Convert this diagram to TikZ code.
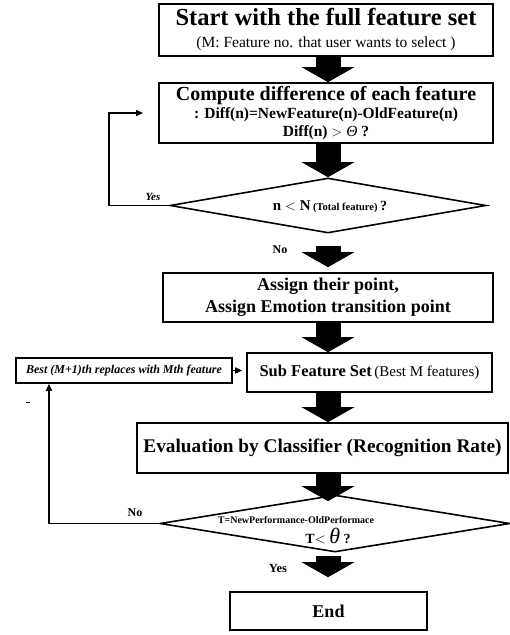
\documentclass[tikz,border=0pt]{standalone}
\usepackage{fontspec}
\setmainfont{Liberation Serif}
\usetikzlibrary{arrows.meta,shapes.geometric}
\newcommand\fsz[1]{\fontsize{#1}{#1}\selectfont}
\begin{document}
\begin{tikzpicture}[x=1pt,y=-1pt,
  box/.style={draw,line width=1.6pt,inner sep=0pt,align=center,font=\bfseries},
  dia/.style={draw,diamond,line width=1.6pt,inner sep=0pt},
  big/.style={line width=25pt,-{Triangle[width=52pt,length=15pt]}},
  thinarrow/.style={line width=1.5pt,-{Triangle[width=6pt,length=7pt]}},
  lab/.style={inner sep=0pt,font=\bfseries\fsz{12}}]
\useasboundingbox (0,0) rectangle (510,635);

% boxes
\node[box,minimum width=334pt,minimum height=52pt,font=\bfseries\fontsize{16}{22}\selectfont] (start) at (326,30)
  {{\fsz{24.5}Start with the full feature set}\\{\mdseries\fsz{15.5}(M: Feature no. that user wants to select )}};
\node[box,minimum width=334pt,minimum height=60pt,font=\bfseries\fontsize{15.5}{18}\selectfont] (compute) at (326,113)
  {{\fsz{20}Compute difference of each feature}\\: Diff(n)=NewFeature(n)-OldFeature(n)\\Diff(n) {$>$} {\itshape\mdseries Θ} ?};
\node[dia,minimum width=316pt,minimum height=55pt] (d1) at (328,205.5) {};
\node[inner sep=0pt,font=\bfseries] (d1t) at (330,207)
  {{\fsz{15}n {$<$} N} {\fsz{10.5}(Total feature)} {\fsz{14}?}};
\node[box,minimum width=330pt,minimum height=49pt,font=\bfseries\fontsize{18}{22}\selectfont] (assign) at (328,297.5)
  {Assign their point,\\Assign Emotion transition point};
\node[box,minimum width=245pt,minimum height=39pt] (sub) at (369.5,372.5)
  {{\fsz{16.5}Sub Feature Set} {\mdseries\fsz{15}(Best M features)}};
\node[box,minimum width=216pt,minimum height=25pt,font=\bfseries\itshape\fsz{12}] (best) at (124,370.5)
  {Best (M+1)th replaces with Mth feature};
\node[box,minimum width=371pt,minimum height=50pt,font=\bfseries\fsz{19.3}] (eval) at (322.5,448)
  {Evaluation by Classifier (Recognition Rate)};
\node[dia,minimum width=350pt,minimum height=57pt] (d2) at (335,523.5) {};
\node[inner sep=0pt,font=\bfseries\fsz{10}] (d2a) at (296,520) {T=NewPerformance-OldPerformace};
\node[inner sep=0pt,font=\bfseries\fsz{14}] (d2b) at (328,536) {T{$<$} {\mdseries\itshape\fsz{22}θ} ?};
\node[box,minimum width=197pt,minimum height=38pt,font=\bfseries\fsz{18}] (end) at (328.5,611) {End};

% big arrows
\coordinate (ax) at (328,0);
\draw[big] (ax |- start.south) -- (ax |- compute.north);
\draw[big] (ax |- compute.south) -- (ax |- d1.north);
\draw[big,shorten <=12pt,shorten >=5pt] (ax |- d1.south) -- (ax |- assign.north);
\draw[big] (ax |- assign.south) -- (ax |- sub.north);
\draw[big] (ax |- sub.south) -- (ax |- eval.north);
\draw[big,shorten >=-7pt] (ax |- eval.south) -- (ax |- d2.north);
\draw[big,shorten <=3pt,shorten >=14pt] (ax |- d2.south) -- (ax |- end.north);

% loops
\coordinate (l1top) at (109,113);
\coordinate (l1tip) at (143,113);
\draw[thinarrow] (d1.west) -| (l1top) -- (l1tip);
\coordinate (l2) at (49,0);
\draw[thinarrow] (d2.west) -| (l2 |- best.south);
\draw[thinarrow,shorten >=4pt] (best.east) -- (best.east -| sub.west);

% labels
\node[lab,font=\bfseries\itshape\fsz{11}] (yes1) at (153,197) {Yes};
\node[lab] (no1) at (280,250) {No};
\node[lab] (no2) at (135,513) {No};
\node[lab,font=\bfseries\fsz{12.5}] (yes2) at (278,568) {Yes};

% stray mark
\coordinate (m1) at (26,402);
\coordinate (m2) at (30,402);
\draw[line width=1pt] (m1) -- (m2);
\end{tikzpicture}
\end{document}
